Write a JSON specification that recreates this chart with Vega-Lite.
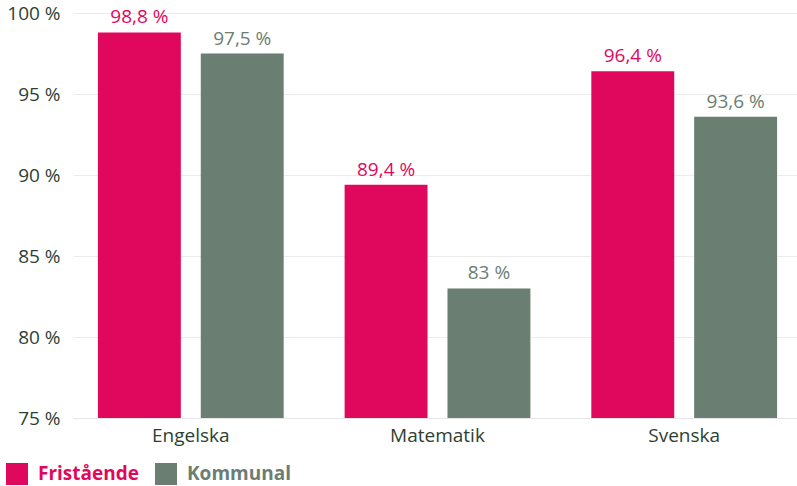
{
  "$schema": "https://vega.github.io/schema/vega-lite/v6.json",
  "width": 729,
  "height": 405,
  "autosize": {"type": "none"},
  "padding": {"left": 73, "top": 13, "right": 0, "bottom": 68},
  "background": "#ffffff",
  "data": {
    "values": [
      {"amne": "Engelska", "typ": "Fristående", "value": 98.8},
      {"amne": "Engelska", "typ": "Kommunal", "value": 97.5},
      {"amne": "Matematik", "typ": "Fristående", "value": 89.4},
      {"amne": "Matematik", "typ": "Kommunal", "value": 83},
      {"amne": "Svenska", "typ": "Fristående", "value": 96.4},
      {"amne": "Svenska", "typ": "Kommunal", "value": 93.6}
    ]
  },
  "encoding": {
    "x": {
      "field": "amne", "type": "nominal", "title": null,
      "scale": {"paddingInner": 0.247, "paddingOuter": 0.101},
      "axis": {"labelAngle": 0, "ticks": false, "domain": true, "domainColor": "#e6e6e6", "labelFontSize": 19, "labelColor": "#2d3f33", "labelPadding": 8, "labelFont": "Open Sans"}
    },
    "xOffset": {"field": "typ", "type": "nominal", "scale": {"paddingInner": 0.194, "paddingOuter": 0}},
    "y": {
      "field": "value", "type": "quantitative", "title": null,
      "scale": {"domain": [75, 100], "nice": false, "zero": false},
      "axis": {"values": [75, 80, 85, 90, 95, 100], "labelExpr": "datum.label + ' %'", "ticks": false, "domain": false, "gridColor": "#ececec", "labelFontSize": 19, "labelColor": "#2d3f33", "labelPadding": 13, "labelFont": "Open Sans"}
    },
    "color": {
      "field": "typ", "type": "nominal", "title": null,
      "scale": {"domain": ["Fristående", "Kommunal"], "range": ["#e0085c", "#6a7e72"]},
      "legend": {
        "orient": "none", "legendX": -67, "legendY": 450, "direction": "horizontal",
        "symbolType": "square", "symbolSize": 484, "symbolStrokeWidth": 0, "symbolOpacity": 1,
        "labelFontSize": 19, "labelFontWeight": "bold", "labelFont": "Open Sans", "labelOffset": 10, "columnPadding": 16,
        "encode": {"labels": {"update": {"fill": {"signal": "datum.value === 'Fristående' ? '#e0085c' : '#6a7e72'"}}}}
      }
    }
  },
  "layer": [
    {"mark": {"type": "bar", "clip": true}},
    {
      "mark": {"type": "text", "baseline": "bottom", "dy": -5, "fontSize": 19, "font": "Open Sans",
        "text": {"expr": "replace(format(datum.value, '.1~f'), '.', ',') + ' %'"}}
    }
  ],
  "config": {"view": {"stroke": null}}
}
